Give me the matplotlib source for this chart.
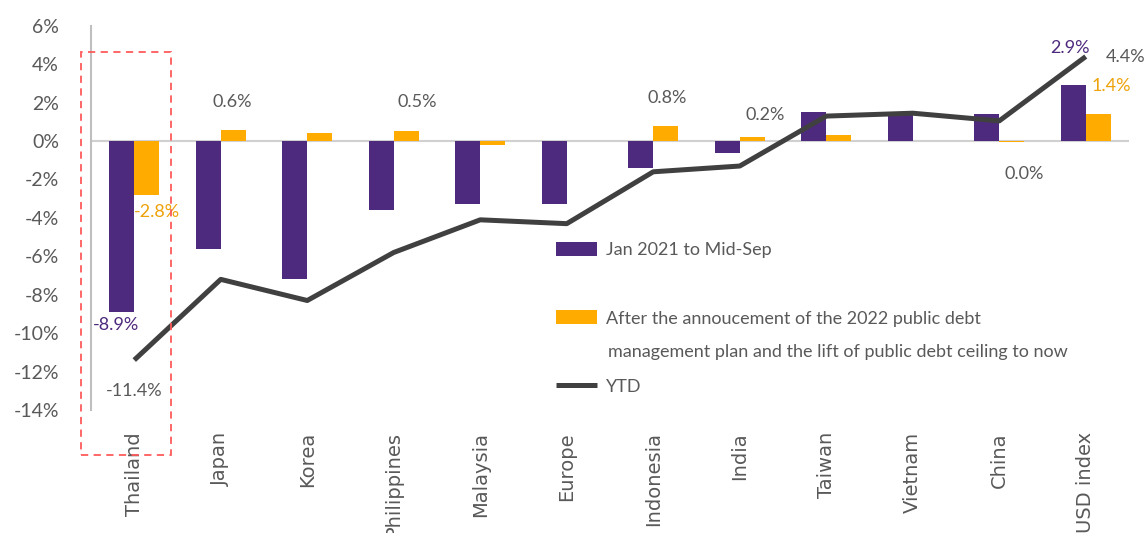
import matplotlib
matplotlib.use("Agg")
import matplotlib.pyplot as plt
from matplotlib.patches import Rectangle
from matplotlib.ticker import FuncFormatter
import numpy as np

# ---- data (% change) ----
CATEGORIES = ["Thailand", "Japan", "Korea", "Philippines", "Malaysia", "Europe",
              "Indonesia", "India", "Taiwan", "Vietnam", "China", "USD index"]
JAN_TO_SEP = [-8.9, -5.6, -7.2, -3.6, -3.3, -3.3, -1.4, -0.6, 1.5, 1.4, 1.4, 2.9]
AFTER_PLAN = [-2.8, 0.6, 0.4, 0.5, -0.2, -0.02, 0.8, 0.2, 0.3, 0.02, -0.04, 1.4]
YTD = [-11.4, -7.2, -8.3, -5.8, -4.1, -4.3, -1.6, -1.3, 1.3, 1.45, 1.05, 4.4]

LEGEND_LABELS = ["Jan 2021 to Mid-Sep",
                 "After the annoucement of the 2022 public debt",
                 "YTD"]
LEGEND_LINE2 = "management plan and the lift of public debt ceiling to now"

# which points get a value label: (category index, offset in points)
ORANGE_LABELS = [(0, (7, -12)), (1, (-1, 20)), (3, (8, 21)), (6, (1, 20)),
                 (7, (9, 16)), (10, (9, -23)), (11, (9, 20))]
PURPLE_LABELS = [(0, (-4, -9)), (11, (-2, 27))]
YTD_LABELS = [(0, (0, -22)), (11, (29, 0))]

PURPLE = "#4e2a7e"
ORANGE = "#ffab00"
ORANGE_TXT = "#eea20a"
LINE = "#404040"
GREY = "#595959"
NUM_FONT = "Lato"

fig = plt.figure(figsize=(11.47, 5.33), dpi=100)
ax = fig.add_axes([91 / 1147, 1 - 410 / 533, (1129 - 91) / 1147, (410 - 25.8) / 533])

x = np.arange(len(CATEGORIES))
w = 0.29
b1 = ax.bar(x - w / 2, JAN_TO_SEP, w, color=PURPLE, zorder=2, label=LEGEND_LABELS[0])
b2 = ax.bar(x + w / 2, AFTER_PLAN, w, color=ORANGE, zorder=2, label=LEGEND_LABELS[1])
ln, = ax.plot(x, YTD, color=LINE, lw=3.6, zorder=3, solid_capstyle="butt",
              label=LEGEND_LABELS[2])
ax.axhline(0, color="#d0d0d0", lw=1.5, zorder=1)

ax.set_xlim(-0.5, len(CATEGORIES) - 0.5)
ax.set_ylim(-14, 6)
ax.set_yticks(np.arange(-14, 7, 2))
ax.yaxis.set_major_formatter(FuncFormatter(lambda v, p: f"{v:.0f}%"))
ax.set_xticks(x)
ax.set_xticklabels(CATEGORIES, rotation=90, fontsize=14, color=GREY,
                   family="DejaVu Sans")
for t in ax.get_yticklabels():
    t.set_family(NUM_FONT)
    t.set_fontsize(14)
    t.set_color(GREY)
ax.tick_params(axis="x", length=0, pad=16)
ax.tick_params(axis="y", length=0, pad=23)
for s in ["top", "right", "bottom"]:
    ax.spines[s].set_visible(False)
ax.spines["left"].set_color("#bfbfbf")
ax.spines["left"].set_linewidth(1.5)


def fmt(v):
    return f"{round(v, 1) + 0.0:.1f}%"


for i, off in ORANGE_LABELS:
    v = AFTER_PLAN[i]
    ax.annotate(fmt(v), (x[i] + w / 2, v), xytext=off, textcoords="offset points",
                ha="center", va="center", fontsize=13, family=NUM_FONT,
                color=ORANGE_TXT if i in (0, 11) else GREY)
for i, off in PURPLE_LABELS:
    v = JAN_TO_SEP[i]
    ax.annotate(fmt(v), (x[i] - w / 2, v), xytext=off, textcoords="offset points",
                ha="center", va="center", fontsize=13, family=NUM_FONT, color=PURPLE)
for i, off in YTD_LABELS:
    v = YTD[i]
    ax.annotate(fmt(v), (x[i], v), xytext=off, textcoords="offset points",
                ha="center", va="center", fontsize=13, family=NUM_FONT, color=GREY)

# dashed highlight box around Thailand
ax.add_patch(Rectangle((-0.616, -16.34), 1.041, 20.98, fill=False,
                       ec="#ff5a5a", lw=1.3, ls=(0, (4, 3)), clip_on=False, zorder=4))

leg = ax.legend(handles=[b1, b2, ln], loc="upper left",
                bbox_to_anchor=(556 / 1147, 1 - 242 / 533),
                bbox_transform=fig.transFigure, frameon=False, borderpad=0,
                borderaxespad=0, handlelength=2.28, handleheight=0.78,
                handletextpad=0.5, labelspacing=2.9,
                prop={"family": NUM_FONT, "size": 13})
for t in leg.get_texts():
    t.set_color(GREY)
fig.text(608 / 1147, 1 - 352 / 533, LEGEND_LINE2, fontsize=13, family=NUM_FONT,
         color=GREY, va="center", ha="left")

fig.savefig("out.png", dpi=100)
